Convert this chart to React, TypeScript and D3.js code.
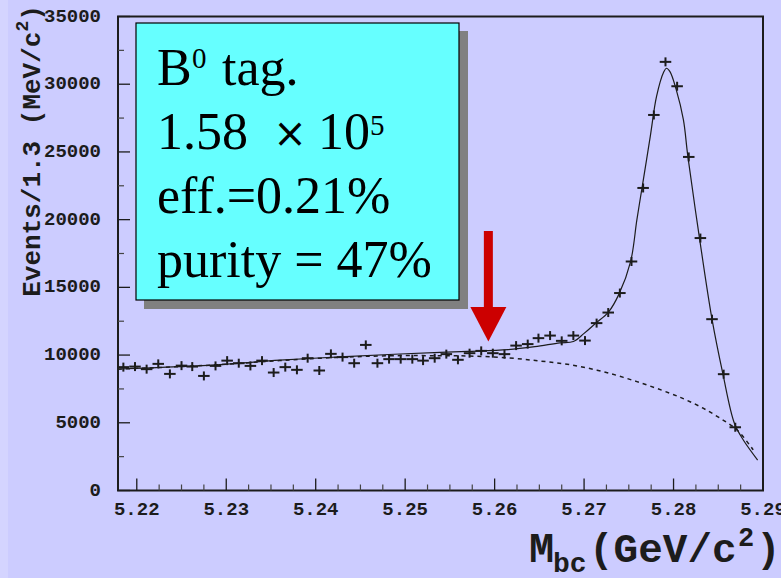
import React from "react";
import * as d3 from "d3";

// Mbc bin centres (GeV/c^2) and event counts per 1.3 MeV bin
const binCenters = [
  5.2185, 5.2198, 5.2211, 5.2224, 5.2237, 5.225, 5.2262, 5.2275, 5.2288, 5.2301,
  5.2314, 5.2327, 5.234, 5.2353, 5.2366, 5.2379, 5.2391, 5.2404, 5.2417, 5.243,
  5.2443, 5.2456, 5.2469, 5.2482, 5.2495, 5.2508, 5.252, 5.2533, 5.2546, 5.2559,
  5.2572, 5.2585, 5.2598, 5.2611, 5.2624, 5.2637, 5.2649, 5.2662, 5.2675, 5.2688,
  5.2701, 5.2714, 5.2727, 5.274, 5.2753, 5.2766, 5.2778, 5.2791, 5.2804, 5.2817,
  5.283, 5.2843, 5.2856, 5.2869,
];
const events = [
  9110, 9150, 8960, 9350, 8610, 9220, 9150, 8460, 9200, 9590,
  9400, 9200, 9590, 8710, 9110, 8910, 9770, 8860, 10090, 9850,
  9400, 10750, 9400, 9700, 9700, 9700, 9590, 9770, 10070, 9650,
  10140, 10310, 10140, 10070, 10700, 10810, 11250, 11440, 11050, 11440,
  11070, 12360, 13140, 14580, 16910, 22340, 27730, 31650, 29850, 24630,
  18640, 12650, 8590, 4670,
];

// Total fit (signal + background), sampled along Mbc
const fitMass = [
  5.2179, 5.2293, 5.236, 5.2433, 5.2494, 5.2539, 5.257, 5.2615, 5.2645, 5.2673,
  5.2688, 5.27, 5.2713, 5.2727, 5.2739, 5.2752, 5.2759, 5.2765, 5.2774, 5.2781,
  5.2789, 5.2792, 5.2796, 5.2803, 5.2811, 5.2816, 5.2829, 5.2843, 5.2855, 5.2868,
  5.2878, 5.2894,
];
const fitEvents = [
  8970, 9300, 9620, 9890, 10080, 10200, 10270, 10400, 10620, 10900,
  11000, 11600, 12350, 13150, 14500, 16900, 19980, 22440, 26150, 29100,
  30900, 31180, 30930, 29600, 27380, 24670, 18640, 12650, 8660, 4970,
  3730, 2250,
];

// Background component of the fit
const bkgMass = [
  5.2179, 5.2293, 5.236, 5.2433, 5.2494, 5.2539, 5.2572, 5.2615, 5.2651, 5.2684,
  5.2721, 5.2759, 5.2796, 5.2814, 5.2833, 5.2852, 5.2871, 5.2885, 5.2889,
];
const bkgEvents = [
  8960, 9290, 9600, 9850, 9960, 9950, 9930, 9790, 9560, 9290,
  8780, 8040, 7180, 6690, 6080, 5340, 4470, 3360, 3000,
];

const yTicks = [0, 5000, 10000, 15000, 20000, 25000, 30000, 35000];
const xTicks = [5.22, 5.23, 5.24, 5.25, 5.26, 5.27, 5.28, 5.29];
const binHalfWidth = 0.000645;
const cutMass = 5.2593;

const W = 781;
const H = 578;
const left = 118;
const right = 763;
const top = 16.5;
const bottom = 490.5;

const x = d3.scaleLinear().domain([5.2179, 5.29]).range([left, right]);
const y = d3.scaleLinear().domain([0, 35000]).range([bottom, top]);

const monoFont = "'Liberation Mono', 'DejaVu Sans Mono', monospace";
const serifFont = "'Liberation Serif', 'DejaVu Serif', serif";
const ink = "#1c1c1c";

export default function App() {
  const fitLine = d3
    .line<number>()
    .x((_, i) => x(fitMass[i]))
    .y((d) => y(d))
    .curve(d3.curveCatmullRom.alpha(0.5));
  const bkgLine = d3
    .line<number>()
    .x((_, i) => x(bkgMass[i]))
    .y((d) => y(d))
    .curve(d3.curveCatmullRom.alpha(0.5));

  const minorY = d3.range(0, 35001, 2500).filter((v) => v % 5000 !== 0);
  const minorX = d3
    .range(5.2175, 5.2901, 0.0025)
    .filter((v) => v >= 5.2179 && Math.abs(v * 100 - Math.round(v * 100)) > 1e-6);

  const ax = x(cutMass);
  const tipY = y(11000);

  return (
    <div style={{ position: "fixed", left: 0, top: 0 }}>
      <svg width={W} height={H} style={{ display: "block" }}>
        <rect width={W} height={H} fill="#ccccff" />
        <rect width={8} height={H} fill="#d4d4ff" />

        {/* plot frame */}
        <rect
          x={left}
          y={top}
          width={right - left}
          height={bottom - top}
          fill="none"
          stroke={ink}
          strokeWidth={2}
        />

        {/* y ticks */}
        {yTicks.map((t) => (
          <g key={"y" + t}>
            <line x1={left} x2={left + 12} y1={y(t)} y2={y(t)} stroke={ink} strokeWidth={1.3} />
            <text
              x={101}
              y={y(t)}
              textAnchor="end"
              dominantBaseline="central"
              fontFamily={monoFont}
              fontWeight="bold"
              fontSize={19}
              fill={ink}
            >
              {t}
            </text>
          </g>
        ))}
        {minorY.map((t) => (
          <line key={"my" + t} x1={left} x2={left + 6} y1={y(t)} y2={y(t)} stroke="#444" strokeWidth={1.2} />
        ))}

        {/* x ticks */}
        {xTicks.map((t) => (
          <g key={"x" + t}>
            <line x1={x(t)} x2={x(t)} y1={bottom} y2={bottom - 12} stroke={ink} strokeWidth={1.3} />
            <text
              x={x(t)}
              y={515}
              textAnchor="middle"
              fontFamily={monoFont}
              fontWeight="bold"
              fontSize={19}
              fill={ink}
            >
              {t.toFixed(2)}
            </text>
          </g>
        ))}
        {minorX.map((t) => (
          <line key={"mx" + t} x1={x(t)} x2={x(t)} y1={bottom} y2={bottom - 6} stroke="#444" strokeWidth={1.2} />
        ))}

        {/* fit curves */}
        <path d={bkgLine(bkgEvents) || ""} fill="none" stroke={ink} strokeWidth={1.5} strokeDasharray="4 4" />
        <path d={fitLine(fitEvents) || ""} fill="none" stroke={ink} strokeWidth={1.2} />

        {/* data points */}
        {binCenters.map((m, i) => {
          const cx = x(m);
          const cy = y(events[i]);
          return (
            <g key={"p" + i} stroke={ink} strokeWidth={2}>
              <line x1={Math.max(left, x(m - binHalfWidth))} x2={x(m + binHalfWidth)} y1={cy} y2={cy} />
              <line x1={cx} x2={cx} y1={cy - 4.5} y2={cy + 4.5} />
            </g>
          );
        })}

        {/* signal-region arrow */}
        <rect x={ax - 4.5} y={231} width={9} height={307 - 231} fill="#cc0000" />
        <polygon
          points={`${ax - 18},307 ${ax + 18},307 ${ax},${tipY}`}
          fill="#cc0000"
        />

        {/* info box */}
        <rect x={144} y={31} width={324} height={278} fill="#808080" />
        <rect x={136} y={23} width={323} height={277} fill="#66ffff" stroke="#000" strokeWidth={1.2} />
        <g fontFamily={serifFont} fontSize={52} fill="#000">
          <text x={157} y={85}>
            B
          </text>
          <text x={192} y={68} fontSize={29}>
            0
          </text>
          <text x={222} y={85}>
            tag.
          </text>
          <text x={157} y={149}>
            1.58
          </text>
          <text x={290} y={147} textAnchor="middle" fontFamily="'DejaVu Sans', sans-serif" fontSize={40}>
            ×
          </text>
          <text x={318} y={149}>
            10
          </text>
          <text x={370} y={135} fontSize={29}>
            5
          </text>
          <text x={157} y={213}>
            eff.=0.21%
          </text>
          <text x={157} y={277}>
            purity = 47%
          </text>
        </g>

        {/* axis titles */}
        <text
          transform={`translate(39.5,151) rotate(-90)`}
          textAnchor="middle"
          fontFamily={monoFont}
          fontWeight="bold"
          fontSize={26}
          fill={ink}
        >
          Events/1.3 (MeV/c
          <tspan fontSize={18} dy={-12}>
            2
          </tspan>
          <tspan dy={12}>)</tspan>
        </text>
        <g fontFamily={monoFont} fontWeight="bold" fill={ink}>
          <text x={529} y={562} fontSize={42}>
            M
          </text>
          <text x={553} y={572} fontSize={28}>
            bc
          </text>
          <text x={589} y={562} fontSize={41}>
            (GeV/c
          </text>
          <text x={738} y={546} fontSize={27}>
            2
          </text>
          <text x={756} y={562} fontSize={41}>
            )
          </text>
        </g>
      </svg>
    </div>
  );
}
